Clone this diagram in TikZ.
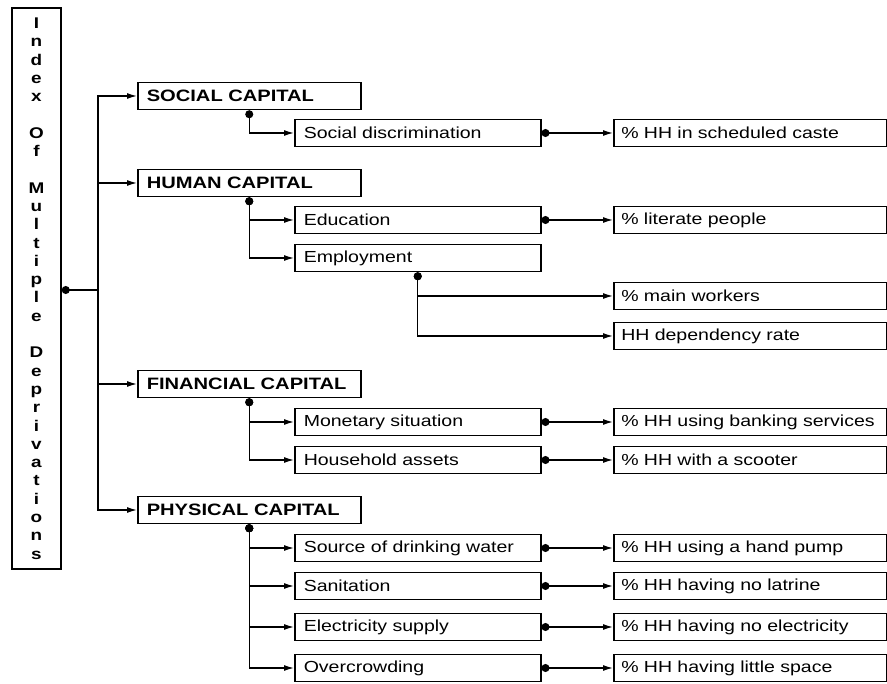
\documentclass[tikz,border=0pt]{standalone}
\usepackage{fontspec}
\setmainfont[FakeStretch=1.22]{Liberation Sans}
\usetikzlibrary{arrows.meta}

\begin{document}
\begin{tikzpicture}[x=1pt,y=-1pt]
    \tikzset{box/.style = {shape=rectangle,draw,line width=1.5pt,minimum height=27pt,inner xsep=9pt,anchor=west,align=left,font=\fontsize{16}{19}\selectfont}}
    \tikzset{capbox/.style = {box,text width=205pt,font=\fontsize{16.5}{19}\selectfont\bfseries}}
    \tikzset{subbox/.style = {box,text width=228pt}}
    \tikzset{indbox/.style = {box,text width=258pt,inner xsep=7.5pt}}
    \tikzset{edge/.style = {line width=1.3pt,-{Latex[length=10pt,width=6pt]}}}
    \tikzset{dotedge/.style = {line width=1.3pt,{Circle[length=8pt]}-{Latex[length=10pt,width=6pt]}}}
    \useasboundingbox (0,0) rectangle (887,684);

    % vertices

    \node[draw,line width=1.5pt,minimum width=49pt,minimum height=561pt,align=center,
          font=\fontsize{15.5}{18.3}\selectfont\bfseries] (idx) at (36.5,288.5)
      {I\\n\\d\\e\\x\\[18.3pt]O\\f\\[18.3pt]M\\u\\l\\t\\i\\p\\l\\e\\[18.3pt]D\\e\\p\\r\\i\\v\\a\\t\\i\\o\\n\\s};
    \coordinate (trunk) at (98,290);

    \node[capbox] (sc) at (137,96) {SOCIAL CAPITAL};
    \node[capbox] (hc) at (137,183) {HUMAN CAPITAL};
    \node[capbox] (fc) at (137,384) {FINANCIAL CAPITAL};
    \node[capbox] (pc) at (137,510) {PHYSICAL CAPITAL};

    \node[subbox] (sd) at (294,133) {Social discrimination};
    \node[subbox] (ed) at (294,220) {Education};
    \node[subbox] (em) at (294,258) {Employment};
    \node[subbox] (ms) at (294,422) {Monetary situation};
    \node[subbox] (ha) at (294,460) {Household assets};
    \node[subbox] (dw) at (294,548) {Source of drinking water};
    \node[subbox] (sa) at (294,586) {Sanitation};
    \node[subbox] (es) at (294,627) {Electricity supply};
    \node[subbox] (oc) at (294,668) {Overcrowding};

    \node[indbox] (i1) at (613,133) {\% HH in scheduled caste};
    \node[indbox] (i2) at (613,220) {\% literate people};
    \node[indbox] (i3) at (613,296) {\% main workers};
    \node[indbox] (i4) at (613,336) {HH dependency rate};
    \node[indbox] (i5) at (613,422) {\% HH using banking services};
    \node[indbox] (i6) at (613,460) {\% HH with a scooter};
    \node[indbox] (i7) at (613,548) {\% HH using a hand pump};
    \node[indbox] (i8) at (613,586) {\% HH having no latrine};
    \node[indbox] (i9) at (613,627) {\% HH having no electricity};
    \node[indbox] (i10) at (613,668) {\% HH having little space};

    %edges
    \draw[line width=1.3pt,{Circle[length=8pt]}-] (idx.east |- trunk) -- (trunk);
    \foreach \c in {sc,hc,fc,pc}
        \draw[edge] (trunk) |- (\c.west);

    \draw[dotedge] (sc.south) |- (sd.west);
    \draw[dotedge] (hc.south) |- (ed.west);
    \draw[dotedge] (hc.south) |- (em.west);
    \draw[dotedge] (fc.south) |- (ms.west);
    \draw[dotedge] (fc.south) |- (ha.west);
    \foreach \s in {dw,sa,es,oc}
        \draw[dotedge] (pc.south) |- (\s.west);

    \draw[dotedge] (sd.east) -- (i1.west);
    \draw[dotedge] (ed.east) -- (i2.west);
    \draw[dotedge] (em.south) |- (i3.west);
    \draw[dotedge] (em.south) |- (i4.west);
    \draw[dotedge] (ms.east) -- (i5.west);
    \draw[dotedge] (ha.east) -- (i6.west);
    \draw[dotedge] (dw.east) -- (i7.west);
    \draw[dotedge] (sa.east) -- (i8.west);
    \draw[dotedge] (es.east) -- (i9.west);
    \draw[dotedge] (oc.east) -- (i10.west);
\end{tikzpicture}
\end{document}
